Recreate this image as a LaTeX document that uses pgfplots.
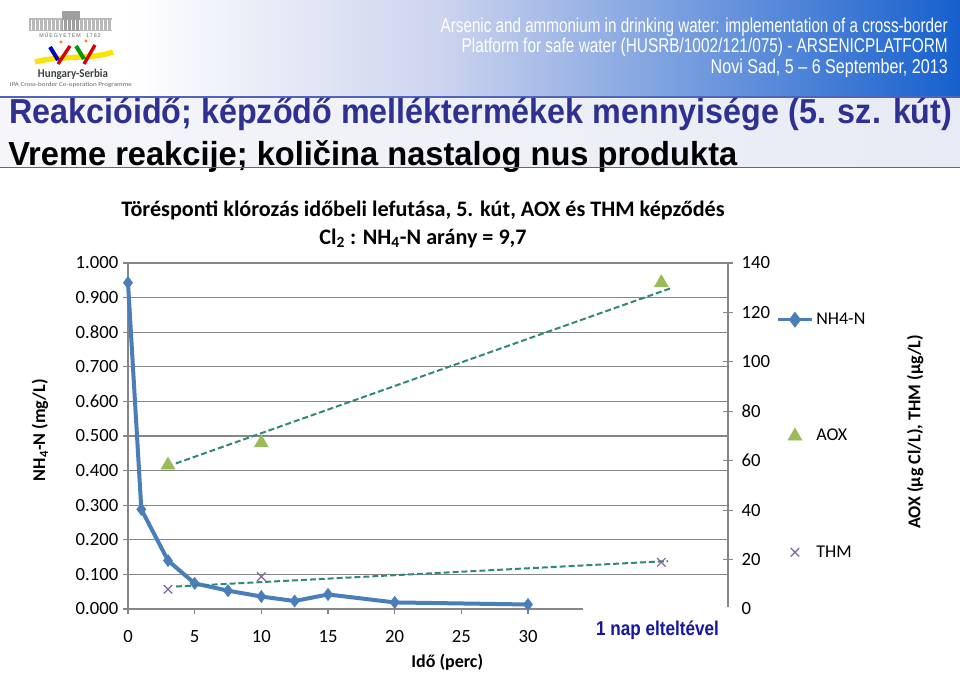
\documentclass[border=0pt]{standalone}
\usepackage{pgfplots}
\pgfplotsset{compat=1.18}
\usepackage{pgfplotstable}
\usepackage{fontspec}
\usepackage{graphicx}
\setmainfont{Carlito}
\newfontfamily\arial{Liberation Sans}
\definecolor{nhblue}{RGB}{74,126,187}
\definecolor{aoxgreen}{RGB}{155,187,89}
\definecolor{thmpurple}{RGB}{128,100,162}
\definecolor{trend}{RGB}{50,135,125}
\definecolor{gridgray}{RGB}{134,134,134}
\definecolor{titleblue}{RGB}{46,49,146}
\definecolor{napblue}{RGB}{22,22,160}
\definecolor{hdrA}{RGB}{205,212,238}
\definecolor{hdrB}{RGB}{22,96,206}
\definecolor{bandA}{RGB}{246,246,250}
\definecolor{bandB}{RGB}{232,235,245}
\definecolor{rulec}{RGB}{80,100,190}
\newcommand{\fitw}[2]{\resizebox{#1}{\height}{#2}}

\pgfplotstableread{
x y
0 0.943
1 0.288
3 0.140
5 0.074
7.5 0.053
10 0.036
12.5 0.023
15 0.042
20 0.019
30 0.013
}\nhdata
\pgfplotstableread{
x y
3 58.2
10 67.2
40 132.0
}\aoxdata
\pgfplotstableread{
x y
3 8.0
10 13.1
40 18.9
}\thmdata

\pgfplotsset{
  wlegend/.style={legend image code/.code={\draw[mark repeat=2,mark phase=2,##1] plot coordinates {(0pt,0pt)(12.75pt,0pt)(25.5pt,0pt)};}},
}

\begin{document}
\begin{tikzpicture}
\path[use as bounding box] (0,0) rectangle (720pt,505.5pt);
\fill[white] (0,0) rectangle (720pt,505.5pt);
\begin{scope}[x=0.75pt,y=-0.75pt,yshift=505.5pt]
  % header
  \shade[left color=white,right color=hdrA] (130,0) rectangle (440,97);
  \shade[left color=hdrA,right color=hdrB] (439.5,0) rectangle (960,97);
  \shade[left color=bandA,right color=bandB] (0,97) rectangle (960,168);
  % logo (simplified)
  \fill[gray!55] (29,18) rectangle (112,31);
  \fill[gray!75] (62,11) rectangle (80,31);
  \foreach \i in {31,35,...,111} \draw[white,line width=0.4pt] (\i,20) -- (\i,30);
  \node[font=\arial\fontsize{4}{5}\selectfont, text=gray!80!black, inner sep=0] at (70,35) {M\,Ű\,E\,G\,Y\,E\,T\,E\,M\quad 1\,7\,8\,2};
  \draw[yellow!85!orange, line width=4pt] (35,62) .. controls (60,55) and (90,60) .. (113,52);
  \draw[blue!70!black, line width=3pt] (50,47) -- (58,60);
  \draw[red!85!black, line width=2.5pt] (58,64) -- (70,46);
  \draw[green!60!black, line width=3pt] (76,46) -- (84,59);
  \draw[red!85!black, line width=2.5pt] (84,64) -- (95,45);
  \fill[orange] (61,42) circle (1.6);
  \fill[orange] (86,41) circle (1.6);
  \node[anchor=base, inner sep=0, text=black!75] at (73,78) {\fitw{52.5pt}{\bfseries\fontsize{9}{10}\selectfont Hungary-Serbia}};
  \node[anchor=base, inner sep=0, text=black!60] at (71,87) {\fitw{91.5pt}{\fontsize{4.5}{5}\selectfont IPA Cross-border Co-operation Programme}};
  % header text
  \node[anchor=base east, text=white, inner sep=0] at (948,33) {\fitw{380.25pt}{\arial\fontsize{15}{17}\selectfont Arsenic and ammonium in drinking water: implementation of a cross-border}};
  \node[anchor=base east, text=white, inner sep=0] at (948,53) {\fitw{364.5pt}{\arial\fontsize{15}{17}\selectfont Platform for safe water (HUSRB/1002/121/075) - ARSENICPLATFORM}};
  \node[anchor=base east, text=white, inner sep=0] at (948,74) {\fitw{177.75pt}{\arial\fontsize{15}{17}\selectfont Novi Sad, 5 – 6 September, 2013}};
  % slide titles
  \draw[rulec,line width=1.3pt] (0,97) -- (960,97);
  \node[anchor=base west, inner sep=0, text=titleblue] at (9,124) {\fitw{707.25pt}{\arial\bfseries\fontsize{26}{30}\selectfont Reakcióidő; képződő melléktermékek mennyisége (5. sz. kút)}};
  \node[anchor=base west, inner sep=0, text=black] at (8,166) {\fitw{546.75pt}{\arial\bfseries\fontsize{25}{30}\selectfont Vreme reakcije; količina nastalog nus produkta}};
  \draw[rulec,line width=1.3pt] (0,167.5) -- (960,167.5);
\end{scope}

\begin{axis}[
  at={(96pt,48.75pt)}, anchor=south west,
  width=450pt, height=259.5pt, scale only axis,
  xmin=0, xmax=45, ymin=0, ymax=1,
  xtick={0,5,10,15,20,25,30},
  ytick={0,0.1,0.2,0.3,0.4,0.5,0.6,0.7,0.8,0.9,1},
  xtick pos=bottom, ytick pos=left,
  tick align=outside, major tick length=3.75pt,
  ymajorgrids, grid style={gridgray, line width=1pt},
  axis line style={gridgray, line width=1pt},
  tick style={gridgray, line width=0.8pt},
  /pgf/number format/assume math mode=true,
  every tick label/.append style={font=\fontsize{14}{16}\selectfont},
  yticklabel style={/pgf/number format/fixed, /pgf/number format/fixed zerofill, /pgf/number format/precision=3},
  xticklabel style={yshift=-9pt},
  scaled y ticks=false,
  ylabel={NH\textsubscript{4}-N (mg/L)},
  ylabel style={font=\bfseries\fontsize{13.5}{15}\selectfont, at={(axis description cs:-0.1467,0.517)}, anchor=center},
  xlabel={Idő (perc)},
  xlabel style={font=\bfseries\fontsize{13.5}{15}\selectfont, at={(axis description cs:0.532,-0.153)}, anchor=center},
  title={Törésponti klórozás időbeli lefutása, 5. kút, AOX és THM képződés\\Cl\textsubscript{2} : NH\textsubscript{4}-N arány = 9,7},
  title style={align=center, font=\bfseries\fontsize{16.6}{21}\selectfont, at={(axis description cs:0.4917,1.089)}, anchor=center},
  clip=false,
]
\addplot[nhblue, line width=3pt, mark=diamond*, mark size=4.5pt, mark options={line width=0.5pt}] table[x=x,y=y]{\nhdata};
\end{axis}

\begin{axis}[
  at={(96pt,48.75pt)}, anchor=south west,
  width=450pt, height=259.5pt, scale only axis,
  xmin=0, xmax=45, ymin=0, ymax=140,
  axis y line*=right, axis x line=none,
  ytick={0,20,40,60,80,100,120,140},
  tick align=center, major tick length=7.5pt,
  axis line style={gridgray, line width=1pt},
  tick style={gridgray, line width=0.8pt},
  /pgf/number format/assume math mode=true,
  yticklabel style={font=\fontsize{14}{16}\selectfont, anchor=west, xshift=3pt},
  ylabel={AOX (µg Cl/L), THM (µg/L)},
  ylabel style={font=\bfseries\fontsize{13.5}{15}\selectfont, at={(axis description cs:1.312,0.512)}, anchor=center},
  legend cell align=left,
  legend style={draw=none, fill=none, at={(axis description cs:1.08,0.5)}, anchor=west, row sep=73pt, font=\fontsize{13.5}{15}\selectfont, inner sep=0pt},
  wlegend,
  clip=false,
]
\addlegendimage{nhblue, line width=2.5pt, mark=diamond*, mark size=4pt}
\addlegendentry{NH4-N}
\addplot[trend, line width=1.5pt, dash pattern=on 4.5pt off 2.2pt, forget plot] coordinates {(3.59,58.9) (40.77,129.9)};
\addplot[trend, line width=1.5pt, dash pattern=on 4.5pt off 2.2pt, forget plot] coordinates {(3.6,9.1) (40.5,19.4)};
\addplot[only marks, mark=triangle*, mark size=6pt, color=aoxgreen] table[x=x,y=y]{\aoxdata};
\addlegendentry{AOX}
\addplot[only marks, mark=x, mark size=4.5pt, color=thmpurple, line width=0.9pt] table[x=x,y=y]{\thmdata};
\addlegendentry{THM}
\end{axis}

\begin{scope}[x=0.75pt,y=-0.75pt,yshift=505.5pt]
  \fill[white] (583,607.5) rectangle (734,655);
  \node[anchor=base, inner sep=0, text=napblue] at (657.5,636) {\fitw{92.25pt}{\arial\bfseries\fontsize{15}{18}\selectfont 1 nap elteltével}};
\end{scope}
\end{tikzpicture}
\end{document}
